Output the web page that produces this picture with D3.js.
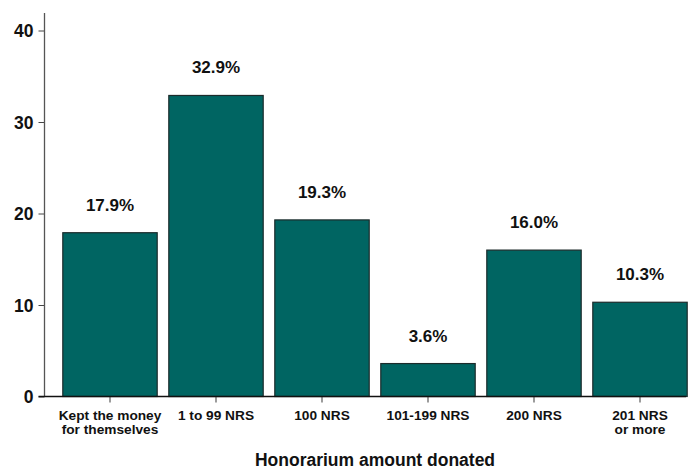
<!DOCTYPE html>
<html>
<head>
<meta charset="utf-8">
<script src="https://cdn.jsdelivr.net/npm/d3@7"></script>
<style>
  html, body { margin: 0; padding: 0; background: #fff; }
  svg { display: block; }
  text { font-family: "Liberation Sans", Arial, sans-serif; font-weight: bold; fill: #111; }
</style>
</head>
<body>
<svg id="chart" width="691" height="470"></svg>
<script>
const categories = [
  ["Kept the money", "for themselves"],
  ["1 to 99 NRS"],
  ["100 NRS"],
  ["101-199 NRS"],
  ["200 NRS"],
  ["201 NRS", "or more"]
];
const values = [17.9, 32.9, 19.3, 3.6, 16.0, 10.3];
const valueLabels = ["17.9%", "32.9%", "19.3%", "3.6%", "16.0%", "10.3%"];
const yTicks = [0, 10, 20, 30, 40];
const xTitle = "Honorarium amount donated";

const svg = d3.select("#chart");
const yAxisX = 44.5, baseY = 396.5;

const x = d3.scaleBand()
  .domain(d3.range(values.length))
  .range([57, 693])
  .paddingInner(0.1)
  .paddingOuter(0.05);

const y = d3.scaleLinear().domain([0, 40]).range([baseY, 30.5]);

// bars
svg.append("g").selectAll("rect")
  .data(values)
  .join("rect")
  .attr("x", (d, i) => x(i) + 0.5)
  .attr("y", d => y(d))
  .attr("width", x.bandwidth() - 1)
  .attr("height", d => baseY - y(d))
  .attr("fill", "#006562")
  .attr("stroke", "#1c2b2b")
  .attr("stroke-width", 1.2);

// value labels
svg.append("g").selectAll("text")
  .data(values)
  .join("text")
  .attr("x", (d, i) => x(i) + x.bandwidth() / 2)
  .attr("y", d => y(d) - 22)
  .attr("text-anchor", "middle")
  .style("font-size", "17px")
  .text((d, i) => valueLabels[i]);

// y axis
const yAxis = d3.axisLeft(y).tickValues(yTicks).tickSize(6).tickPadding(5).tickFormat(d3.format("d"));
const gy = svg.append("g").attr("transform", `translate(${yAxisX},0)`).call(yAxis);
gy.select(".domain").remove();
gy.selectAll(".tick line").attr("stroke", "#444");
gy.selectAll(".tick text").style("font-size", "17.5px").attr("fill", "#111").attr("dy", "0.35em");
svg.append("line")
  .attr("x1", yAxisX).attr("x2", yAxisX)
  .attr("y1", 13).attr("y2", baseY)
  .attr("stroke", "#555").attr("stroke-width", 1.3);

// x axis
const xAxis = d3.axisBottom(x).tickSize(6).tickFormat("");
const gx = svg.append("g").attr("transform", `translate(0,${baseY})`).call(xAxis);
gx.select(".domain").remove();
gx.selectAll(".tick line").attr("stroke", "#666").attr("stroke-width", 1.3);
svg.append("line")
  .attr("x1", yAxisX - 6).attr("x2", 686)
  .attr("y1", baseY).attr("y2", baseY)
  .attr("stroke", "#111").attr("stroke-width", 1.5);

// x tick labels
const xl = svg.append("g").selectAll("text")
  .data(categories)
  .join("text")
  .attr("x", (d, i) => x(i) + x.bandwidth() / 2)
  .attr("y", 419.5)
  .attr("text-anchor", "middle")
  .style("font-size", "13.7px");
xl.selectAll("tspan")
  .data(d => d)
  .join("tspan")
  .attr("x", function() { return this.parentNode.getAttribute("x"); })
  .attr("dy", (d, i) => i === 0 ? 0 : 14)
  .text(d => d);

// axis title
svg.append("text")
  .attr("x", (x(0) + x(values.length - 1) + x.bandwidth()) / 2)
  .attr("y", 465.5)
  .attr("text-anchor", "middle")
  .style("font-size", "17.5px")
  .text(xTitle);
</script>
</body>
</html>
